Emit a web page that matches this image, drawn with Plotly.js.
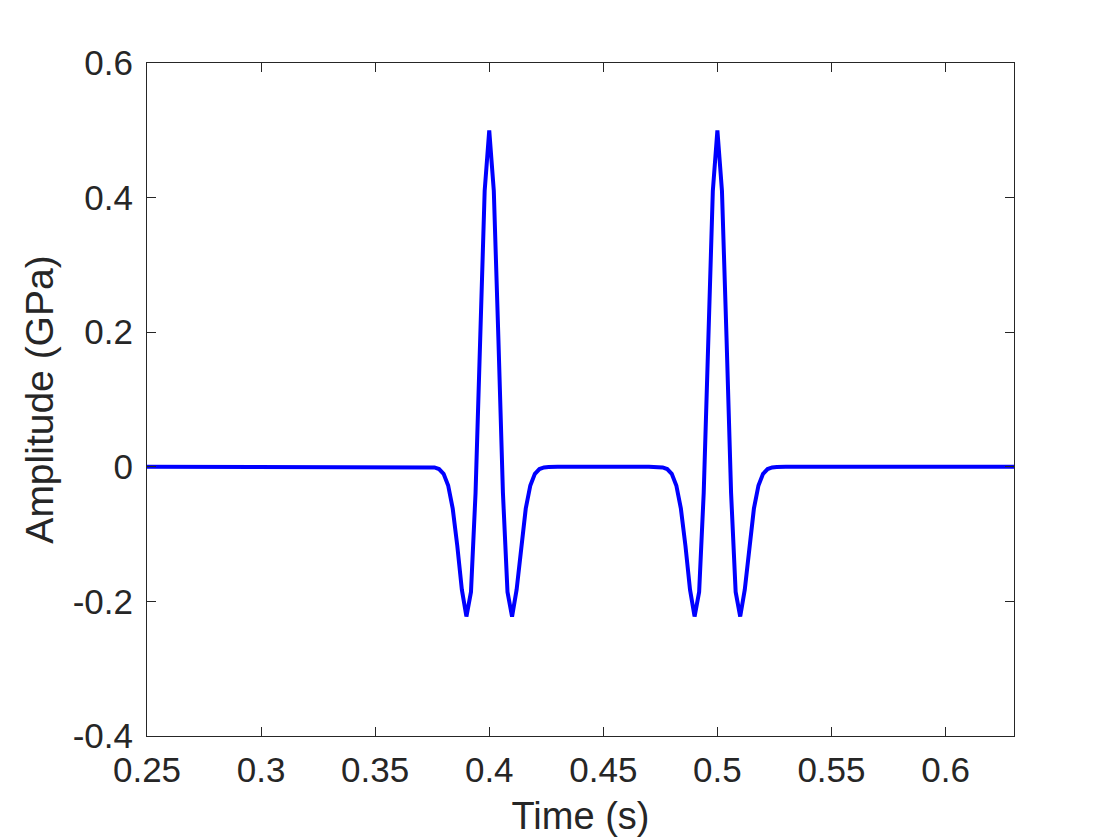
<!DOCTYPE html>
<html>
<head>
<meta charset="utf-8">
<script src="https://cdn.plot.ly/plotly-3.0.1.min.js"></script>
<style>body{margin:0;background:#fff;} #chart{width:1120px;height:840px;}</style>
</head>
<body>
<div id="chart"></div>
<script>
// Time samples (s)
const time = [
  0.25, 0.37,
  0.372, 0.374, 0.376, 0.378, 0.380, 0.382, 0.384, 0.386, 0.388, 0.390,
  0.392, 0.394, 0.396, 0.398, 0.400, 0.402, 0.404, 0.406, 0.408, 0.410,
  0.412, 0.414, 0.416, 0.418, 0.420, 0.422, 0.424, 0.426, 0.428,
  0.43, 0.47,
  0.472, 0.474, 0.476, 0.478, 0.480, 0.482, 0.484, 0.486, 0.488, 0.490,
  0.492, 0.494, 0.496, 0.498, 0.500, 0.502, 0.504, 0.506, 0.508, 0.510,
  0.512, 0.514, 0.516, 0.518, 0.520, 0.522, 0.524, 0.526, 0.528,
  0.53, 0.63
];
// Amplitude (GPa)
const amplitude = [
  0, 0,
  -0.00005, -0.00024, -0.00096, -0.0034, -0.0105, -0.0277, -0.0622, -0.1175, -0.1826, -0.2225,
  -0.1859, -0.0388, 0.1921, 0.4101, 0.5, 0.4101, 0.1921, -0.0388, -0.1859, -0.2225,
  -0.1826, -0.1175, -0.0622, -0.0277, -0.0105, -0.0034, -0.00096, -0.00024, -0.00005,
  0, 0,
  -0.00005, -0.00024, -0.00096, -0.0034, -0.0105, -0.0277, -0.0622, -0.1175, -0.1826, -0.2225,
  -0.1859, -0.0388, 0.1921, 0.4101, 0.5, 0.4101, 0.1921, -0.0388, -0.1859, -0.2225,
  -0.1826, -0.1175, -0.0622, -0.0277, -0.0105, -0.0034, -0.00096, -0.00024, -0.00005,
  0, 0
];
const xTicks = [0.25, 0.3, 0.35, 0.4, 0.45, 0.5, 0.55, 0.6];
const xTickText = ['0.25', '0.3', '0.35', '0.4', '0.45', '0.5', '0.55', '0.6'];
const yTicks = [-0.4, -0.2, 0, 0.2, 0.4, 0.6];
const yTickText = ['-0.4', '-0.2', '0', '0.2', '0.4', '0.6'];

const axisColor = '#262626';
const fontFam = 'Liberation Sans, Arial, Helvetica, sans-serif';

const trace = {
  x: time, y: amplitude, type: 'scatter', mode: 'lines',
  line: {color: '#0000ff', width: 4},
  hoverinfo: 'skip'
};

const layout = {
  width: 1120, height: 840,
  margin: {l: 147, r: 106, t: 63, b: 104, pad: 0},
  paper_bgcolor: '#ffffff', plot_bgcolor: '#ffffff',
  showlegend: false,
  font: {family: fontFam, color: axisColor, size: 35},
  xaxis: {
    range: [0.25, 0.63], tickmode: 'array', tickvals: xTicks, ticktext: xTickText,
    ticks: 'inside', ticklen: 9, tickwidth: 1, tickcolor: axisColor,
    showline: true, linecolor: axisColor, linewidth: 1, mirror: 'ticks',
    showgrid: false, zeroline: false, ticklabelstandoff: 3,
    tickfont: {size: 35, family: fontFam, color: axisColor},
    title: {text: 'Time (s)', font: {size: 38, family: fontFam, color: axisColor}, standoff: 14}
  },
  yaxis: {
    range: [-0.4, 0.6], tickmode: 'array', tickvals: yTicks, ticktext: yTickText,
    ticks: 'inside', ticklen: 9, tickwidth: 1, tickcolor: axisColor,
    showline: true, linecolor: axisColor, linewidth: 1, mirror: 'ticks',
    showgrid: false, zeroline: false, ticklabelstandoff: 6,
    tickfont: {size: 35, family: fontFam, color: axisColor},
    title: {text: 'Amplitude (GPa)', font: {size: 39, family: fontFam, color: axisColor}, standoff: 7}
  }
};

Plotly.newPlot('chart', [trace], layout, {displayModeBar: false, staticPlot: true});
</script>
</body>
</html>
